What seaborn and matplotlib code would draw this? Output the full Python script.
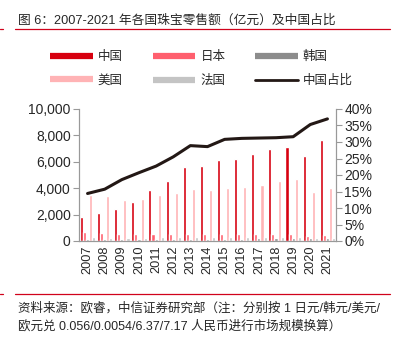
import numpy as np
import pandas as pd
import matplotlib
matplotlib.use("Agg")
import matplotlib.pyplot as plt
import seaborn as sns
from matplotlib.lines import Line2D
from matplotlib.ticker import FuncFormatter, FixedLocator

years = [str(y) for y in range(2007, 2022)]
china = [1820, 2130, 2400, 2960, 3850, 4560, 5600, 5700, 6100, 6180, 6560, 6990, 7090, 6460, 7650]
japan = [660, 580, 500, 500, 500, 500, 530, 560, 560, 560, 560, 560, 560, 400, 480]
korea = [170, 160, 150, 150, 160, 170, 170, 180, 180, 180, 200, 200, 200, 190, 200]
usa = [3490, 3390, 3090, 3190, 3490, 3670, 3920, 3900, 4030, 4100, 4230, 4530, 4680, 3720, 4030]
france = [280, 260, 250, 260, 280, 280, 280, 280, 270, 270, 280, 280, 280, 200, 250]
china_share = [14.4, 15.7, 18.6, 20.7, 22.7, 25.5, 28.9, 28.6, 30.8, 31.1, 31.2, 31.3, 31.6, 35.3, 37.0]

countries = ["中国", "日本", "韩国", "美国", "法国"]
colors = ["#d7000f", "#ff5f6e", "#8c8c8c", "#ffb3b5", "#c4c4c4"]
line_color = "#231815"

sns.set_style("white")
plt.rcParams["font.family"] = ["Liberation Sans", "Noto Sans CJK SC"]

rows = []
for name, vals in zip(countries, [china, japan, korea, usa, france]):
    for y, v in zip(years, vals):
        rows.append({"year": y, "country": name, "value": v})
df = pd.DataFrame(rows)

fig = plt.figure(figsize=(3.94, 3.38), dpi=100)
ax = fig.add_axes([79/394, 1-241/338, (336-79)/394, (241-109)/338])

sns.barplot(data=df, x="year", y="value", hue="country", hue_order=countries,
            palette=colors, width=0.9, ax=ax, legend=False, saturation=1)
ax.set_xlim(-0.5, len(years) - 0.5)
ax.set_ylim(0, 10000)
ax.set_yticks(np.arange(0, 10001, 2000))
ax.yaxis.set_major_formatter(FuncFormatter(lambda v, p: f"{int(v):,}"))
ax.set_xlabel("")
ax.set_ylabel("")
ax.tick_params(axis="x", which="major", length=0, labelsize=9.2, rotation=90, pad=3)
ax.xaxis.set_minor_locator(FixedLocator(np.arange(-0.5, len(years), 1)))
ax.tick_params(axis="x", which="minor", length=4, color="#999999", width=0.8)
ax.tick_params(axis="y", length=4, color="#999999", width=0.8, labelsize=10, pad=2)

ax2 = ax.twinx()
sns.lineplot(x=np.arange(len(years)), y=china_share, ax=ax2, color=line_color, linewidth=2.2)
ax2.set_ylim(0, 40)
ax2.set_xlim(-0.5, len(years) - 0.5)
ax2.set_yticks(np.arange(0, 41, 5))
ax2.yaxis.set_major_formatter(FuncFormatter(lambda v, p: f"{int(v)}%"))
ax2.tick_params(axis="y", length=4, color="#999999", width=0.8, labelsize=10, pad=2)

for a in (ax, ax2):
    a.spines["top"].set_visible(False)
    for s in ["left", "right", "bottom"]:
        a.spines[s].set_color("#999999")
        a.spines[s].set_linewidth(0.8)

handles = [Line2D([0], [0], color=c, lw=4.5, solid_capstyle="butt") for c in colors]
handles.append(Line2D([0], [0], color=line_color, lw=2))
labels = countries + ["中国占比"]
order = [0, 3, 1, 4, 2, 5]
fig.legend([handles[i] for i in order], [labels[i] for i in order], ncol=3,
           loc="center", bbox_to_anchor=(0.5 + 0.012, 1 - 69/338), frameon=False,
           fontsize=9, handlelength=3.4, handletextpad=0.4, columnspacing=2.4,
           labelspacing=0.95)

fig.text(18/394, 1-21/338, "图 6：2007-2021 年各国珠宝零售额（亿元）及中国占比",
         fontsize=9.2, va="center", ha="left")
fig.add_artist(Line2D([15/394, 390/394], [1-29/338, 1-29/338], color="#d0021b", lw=0.9))
fig.add_artist(Line2D([0, 3/394], [1-29/338, 1-29/338], color="#d0021b", lw=0.9))
fig.add_artist(Line2D([15/394, 390/394], [1-294/338, 1-294/338], color="#d0021b", lw=0.9))
fig.add_artist(Line2D([0, 3/394], [1-294/338, 1-294/338], color="#d0021b", lw=0.9))
fig.text(18/394, 1-308/338, "资料来源：欧睿，中信证券研究部（注：分别按 1 日元/韩元/美元/",
         fontsize=9, va="center", ha="left")
fig.text(18/394, 1-326/338, "欧元兑 0.056/0.0054/6.37/7.17 人民币进行市场规模换算）",
         fontsize=9, va="center", ha="left")

fig.savefig("out.png", dpi=100)
